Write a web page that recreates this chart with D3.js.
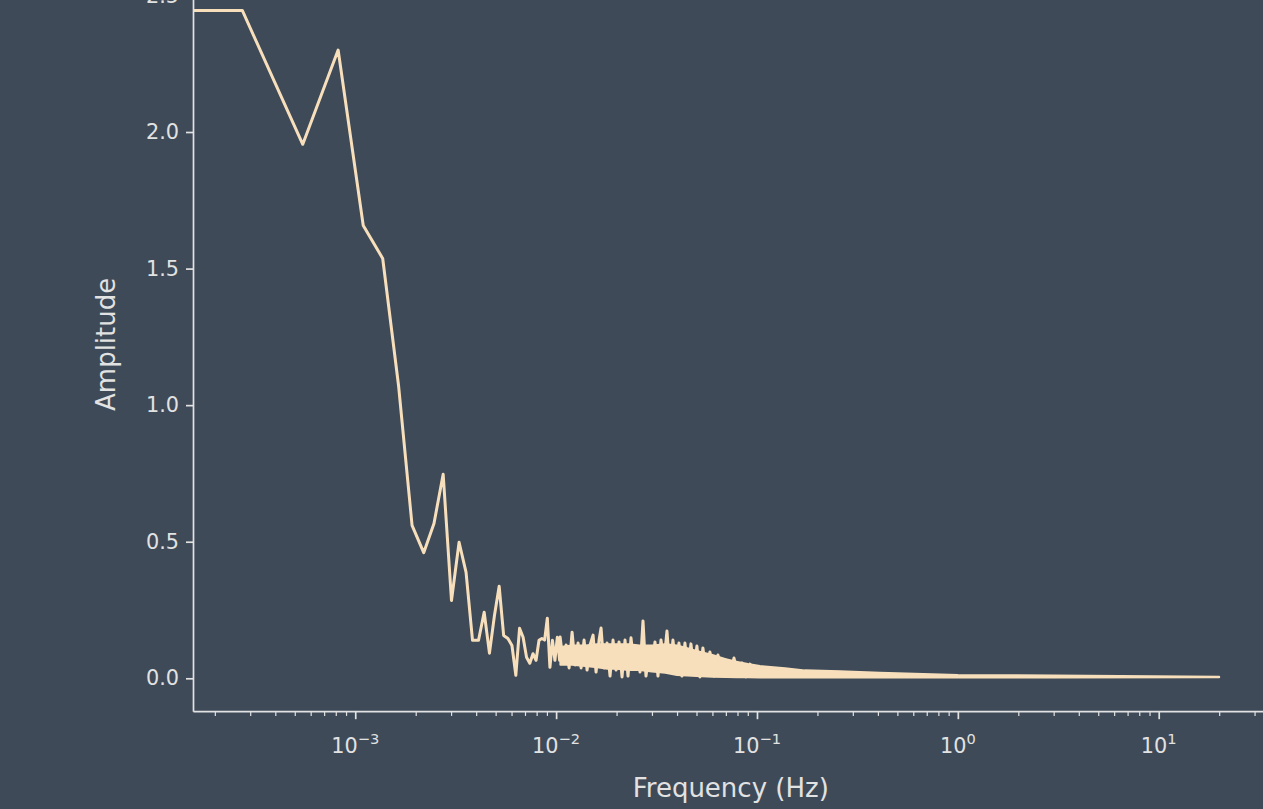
<!DOCTYPE html>
<html>
<head>
<meta charset="utf-8">
<script src="https://cdn.jsdelivr.net/npm/d3@7"></script>
<style>
  html, body { margin: 0; padding: 0; background: #3e4a58; }
  svg { display: block; font-family: "DejaVu Sans", sans-serif; }
</style>
</head>
<body>
<div id="chart"></div>
<script>
// spectrum as drawn: single bins at low frequency (index 0 is the DC bin),
// then the peaks / troughs of the fast wiggle
const freq = [0, 0.000274, 0.000548, 0.000822, 0.001096, 0.00137, 0.001644, 0.001918,
  0.002192, 0.002466, 0.00274, 0.003014, 0.003288, 0.003562, 0.003836, 0.00411, 0.004384,
  0.004658, 0.004932, 0.005206, 0.00548, 0.005754, 0.006028, 0.006302, 0.006576, 0.00685,
  0.007124, 0.007398, 0.007672, 0.007946, 0.00822, 0.008494, 0.008768, 0.009042, 0.009316,
  0.00959, 0.009864, 0.010138, 0.010412,
  0.010469, 0.010834, 0.011213, 0.011605, 0.012010, 0.012430, 0.012864, 0.013314,
  0.013779, 0.014261, 0.014759, 0.015275, 0.015809, 0.016361, 0.016740, 0.017325,
  0.017930, 0.018557, 0.019205, 0.019876, 0.020570, 0.021289, 0.022033, 0.022802,
  0.023599, 0.024424, 0.025277, 0.026160, 0.027074, 0.028020, 0.028999, 0.030012,
  0.031061, 0.032146, 0.033269, 0.034431, 0.035634, 0.036879, 0.038167, 0.039501,
  0.040881, 0.042309, 0.043787, 0.045317, 0.046900, 0.048539, 0.050234, 0.051989,
  0.053806, 0.055685, 0.058295, 0.061087, 0.063936, 0.066933, 0.070101, 0.073385,
  0.076824, 0.080425, 0.084194, 0.088138, 0.092268, 0.097736, 0.10350];
const amp = [2.445, 2.445, 1.955, 2.30, 1.658, 1.537, 1.07, 0.56,
  0.46, 0.567, 0.747, 0.285, 0.498, 0.388, 0.139, 0.139, 0.242,
  0.092, 0.23, 0.337, 0.157, 0.146, 0.12, 0.011, 0.183, 0.15,
  0.077, 0.055, 0.09, 0.066, 0.139, 0.146, 0.14, 0.22, 0.04,
  0.139, 0.066, 0.15, 0.066,
  0.151, 0.060, 0.122, 0.038, 0.169, 0.049, 0.129, 0.038,
  0.140, 0.030, 0.122, 0.158, 0.023, 0.140, 0.184, 0.038,
  0.129, 0.008, 0.140, 0.030, 0.133, 0.005, 0.140, 0.008,
  0.148, 0.038, 0.093, 0.023, 0.210, 0.008, 0.093, 0.038,
  0.133, 0.008, 0.140, 0.060, 0.173, 0.023, 0.140, 0.038,
  0.129, 0.008, 0.129, 0.023, 0.126, 0.030, 0.118, 0.005,
  0.111, 0.023, 0.096, 0.008, 0.085, 0.016, 0.067, 0.008,
  0.074, 0.008, 0.056, 0.005, 0.052, 0.008, 0.045];

// the solid body of the dense part: where the wiggle fills in completely
const bandFreq = [0.0105, 0.012, 0.014, 0.016, 0.018, 0.02, 0.023, 0.026, 0.03, 0.035,
  0.04, 0.045, 0.05, 0.06, 0.07, 0.08, 0.09, 0.1035, 0.138, 0.173, 0.259, 0.409, 1.0, 3.0, 20];
const bandHi = [0.115, 0.12, 0.12, 0.125, 0.125, 0.125, 0.125, 0.12, 0.12, 0.125,
  0.12, 0.11, 0.10, 0.085, 0.07, 0.06, 0.052, 0.045, 0.037, 0.029, 0.026, 0.020, 0.012, 0.010, 0.006];
const bandLo = [0.05, 0.05, 0.045, 0.04, 0.035, 0.035, 0.03, 0.03, 0.025, 0.02,
  0.012, 0.01, 0.008, 0.006, 0.005, 0.004, 0.004, 0.003, 0.003, 0.003, 0.003, 0.003, 0.003, 0.003, 0.004];

const yTicks = [0, 0.5, 1.0, 1.5, 2.0, 2.5];
const xTickExps = [-3, -2, -1, 0, 1];

const W = 1263, H = 809;
const bg = '#3e4a58', fg = '#e2e2e2', lineColor = '#f8dfbc';
const plotLeft = 193.5, plotRight = 1268, plotTop = -23, plotBottom = 711.7;

const svg = d3.select('#chart').append('svg')
  .attr('width', W).attr('height', H);
svg.append('rect').attr('width', W).attr('height', H).attr('fill', bg);

const x = d3.scaleLog().domain([1.566e-4, 35]).range([plotLeft, plotRight]);
const y = d3.scaleLinear().domain([-0.1223, 2.5675]).range([plotBottom, plotTop]);

// log axis clips non-positive frequencies to a tiny value, like matplotlib
const fx = f => x(Math.max(f, 1e-7));

svg.append('clipPath').attr('id', 'plotClip')
  .append('rect').attr('x', plotLeft).attr('y', plotTop)
  .attr('width', plotRight - plotLeft).attr('height', plotBottom - plotTop);

const plot = svg.append('g').attr('clip-path', 'url(#plotClip)');

const band = bandFreq.map((f, i) => ({f: f, hi: bandHi[i], lo: bandLo[i]}));
plot.append('path')
  .datum(band)
  .attr('d', d3.area().x(d => fx(d.f)).y0(d => y(d.lo)).y1(d => y(d.hi)))
  .attr('fill', lineColor)
  .attr('stroke', lineColor)
  .attr('stroke-width', 2)
  .attr('stroke-linejoin', 'round');

const pts = freq.map((f, i) => ({f: f, a: amp[i]}));
plot.append('path')
  .datum(pts)
  .attr('d', d3.line().x(d => fx(d.f)).y(d => y(d.a)))
  .attr('fill', 'none')
  .attr('stroke', lineColor)
  .attr('stroke-width', 3)
  .attr('stroke-linejoin', 'round');

// y axis
const yAxis = svg.append('g')
  .attr('transform', `translate(${plotLeft},0)`)
  .call(d3.axisLeft(y).tickValues(yTicks).tickFormat(d3.format('.1f'))
    .tickSize(7.5).tickPadding(7));
yAxis.select('.domain').attr('stroke', fg).attr('stroke-width', 1.7)
  .attr('d', `M0,${plotTop}V${plotBottom}`);
yAxis.selectAll('.tick line').attr('stroke', fg).attr('stroke-width', 1.7);
yAxis.selectAll('.tick text').attr('fill', fg)
  .style('font-size', '20.8px').style('font-family', '"DejaVu Sans", sans-serif');

// x axis, minor ticks first
const minors = [];
for (let e = -4; e <= 1; e++) {
  for (let m = 2; m <= 9; m++) {
    const v = m * Math.pow(10, e);
    if (v > x.domain()[0] && v < x.domain()[1]) minors.push(v);
  }
}
const xMinor = svg.append('g')
  .attr('transform', `translate(0,${plotBottom})`)
  .call(d3.axisBottom(x).tickValues(minors).tickFormat('').tickSize(4.2));
xMinor.select('.domain').remove();
xMinor.selectAll('.tick line').attr('stroke', fg).attr('stroke-width', 1.2);

const xMajor = svg.append('g')
  .attr('transform', `translate(0,${plotBottom})`)
  .call(d3.axisBottom(x).tickValues(xTickExps.map(e => Math.pow(10, e)))
    .tickFormat('').tickSize(7.5));
xMajor.select('.domain').attr('stroke', fg).attr('stroke-width', 1.7)
  .attr('d', `M${plotLeft},0H${plotRight}`);
xMajor.selectAll('.tick line').attr('stroke', fg).attr('stroke-width', 1.7);

// mathtext style labels 10^n
xTickExps.forEach(e => {
  const t = svg.append('text')
    .attr('x', x(Math.pow(10, e)))
    .attr('y', plotBottom + 7.5 + 7 + 27)
    .attr('text-anchor', 'middle')
    .attr('fill', fg)
    .style('font-size', '20.8px');
  t.append('tspan').text('10');
  t.append('tspan')
    .attr('dy', -9)
    .style('font-size', '14.6px')
    .text(e < 0 ? '\u2212' + (-e) : String(e));
});

// axis labels
svg.append('text')
  .attr('x', (plotLeft + plotRight) / 2)
  .attr('y', 797)
  .attr('text-anchor', 'middle')
  .attr('fill', fg)
  .style('font-size', '26px')
  .text('Frequency (Hz)');

svg.append('text')
  .attr('transform', `translate(115,${(plotTop + plotBottom) / 2}) rotate(-90)`)
  .attr('text-anchor', 'middle')
  .attr('fill', fg)
  .style('font-size', '26px')
  .text('Amplitude');
</script>
</body>
</html>
